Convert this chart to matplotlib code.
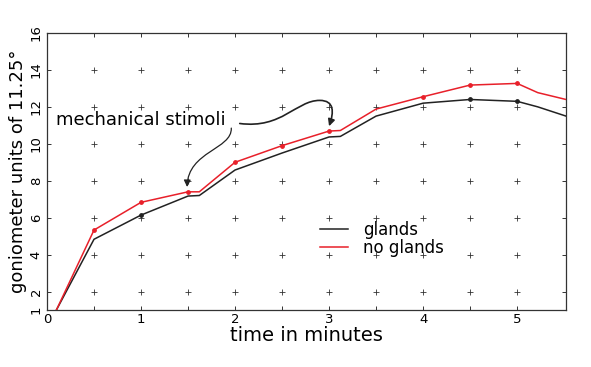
import numpy as np
import matplotlib
matplotlib.use("Agg")
import matplotlib.pyplot as plt
from matplotlib.path import Path
from matplotlib.patches import FancyArrowPatch

# Data (time in minutes, goniometer units)
t_glands = [0.1, 0.5, 1.0, 1.5, 1.62, 2.0, 2.5, 3.0, 3.12, 3.5, 4.0, 4.5, 5.0, 5.22, 5.52]
y_glands = [1.0, 4.83, 6.14, 7.17, 7.2, 8.58, 9.5, 10.37, 10.4, 11.5, 12.2, 12.4, 12.3, 12.0, 11.5]
t_noglands = [0.1, 0.5, 1.0, 1.5, 1.62, 2.0, 2.5, 3.0, 3.12, 3.5, 4.0, 4.5, 5.0, 5.22, 5.52]
y_noglands = [1.0, 5.33, 6.83, 7.4, 7.4, 9.0, 9.9, 10.69, 10.72, 11.88, 12.55, 13.18, 13.27, 12.77, 12.4]
red_dots_t = [0.5, 1.0, 1.5, 2.0, 2.5, 3.0, 4.0, 4.5, 5.0]
black_dots_t = [1.0, 4.5, 5.0]

xticks = [0, 1, 2, 3, 4, 5]
yticks = [1, 2, 4, 6, 8, 10, 12, 14, 16]
grid_x = [0.5, 1.0, 1.5, 2.0, 2.5, 3.0, 3.5, 4.0, 4.5, 5.0]
grid_y = [2, 4, 6, 8, 10, 12, 14]

plt.rcParams['font.family'] = ['DejaVu Sans']
fig = plt.figure(figsize=(5.91, 3.67), dpi=100)
ax = fig.add_axes([47/591, 1-310/367, (566-47)/591, (310-33)/367])
ax.set_xlim(0, 5.52)
ax.set_ylim(1, 16)

# plus-mark grid
gx, gy = np.meshgrid(grid_x, grid_y)
ax.scatter(gx.ravel(), gy.ravel(), marker='+', s=22, linewidths=0.6, color='#333333', zorder=1)

ax.plot(t_glands, y_glands, color='#222222', lw=1.1, label='glands', zorder=3)
ax.plot(t_noglands, y_noglands, color='#e8202a', lw=1.1, label='no glands', zorder=3)
ax.scatter(red_dots_t, np.interp(red_dots_t, t_noglands, y_noglands), s=6, color='#e8202a', zorder=4)
ax.scatter(black_dots_t, np.interp(black_dots_t, t_glands, y_glands), s=6, color='#222222', zorder=4)

for s in ax.spines.values():
    s.set_color('#333333')
    s.set_linewidth(0.9)

ax.set_xticks(xticks)
ax.set_xticks(grid_x, minor=True)
ax.set_yticks(yticks)
ax.set_yticklabels([str(v) for v in yticks], rotation=90, va='center')
ax.tick_params(axis='both', which='both', direction='in', length=3, width=0.7, color='#333333',
               top=True, right=True, labelsize=9.5)
ax.tick_params(axis='y', pad=3)
ax.tick_params(axis='x', pad=2)

ax.set_xlabel('time in minutes', fontsize=14, labelpad=0)
ax.set_ylabel('goniometer units of 11.25°', fontsize=13, labelpad=2)

ax.text(0.1, 11.3, 'mechanical stimoli', fontsize=13, ha='left', va='center')

# curved arrows
p1 = Path([(1.96, 10.85), (1.97, 9.7), (1.5, 9.6), (1.49, 7.66)],
          [Path.MOVETO, Path.CURVE4, Path.CURVE4, Path.CURVE4])
ax.add_patch(FancyArrowPatch(path=p1, arrowstyle='-|>', color='#222222', lw=0.9,
                             mutation_scale=10, transform=ax.transData))
p2 = Path([(2.05, 11.1), (2.5, 10.8), (2.65, 12.35), (2.9, 12.35),
           (3.06, 12.35), (3.05, 11.7), (3.0, 10.95)],
          [Path.MOVETO, Path.CURVE4, Path.CURVE4, Path.CURVE4,
           Path.CURVE4, Path.CURVE4, Path.CURVE4])
ax.add_patch(FancyArrowPatch(path=p2, arrowstyle='-|>', color='#222222', lw=1.2,
                             mutation_scale=10, transform=ax.transData))

ax.legend(loc='upper left', bbox_to_anchor=(0.513, 0.345), frameon=False, fontsize=12,
          handlelength=1.7, handletextpad=0.9, labelspacing=0.0, borderaxespad=0)

fig.savefig('out.png', dpi=100)
